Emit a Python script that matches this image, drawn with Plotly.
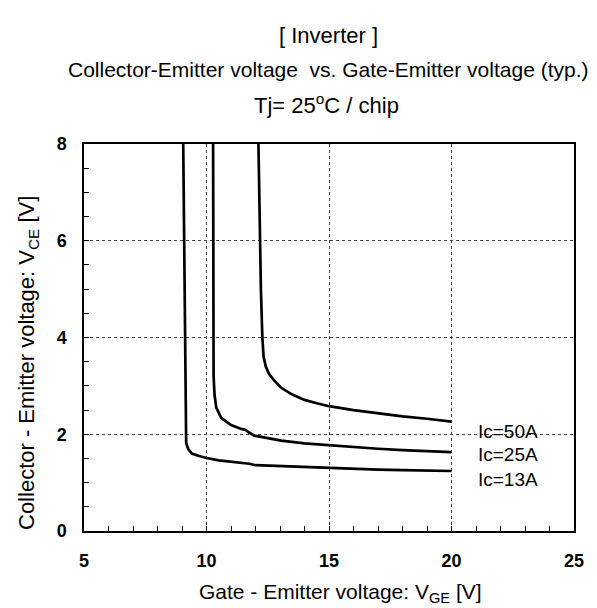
import plotly.graph_objects as go

# Data
vge_50 = [12.12, 12.17, 12.22, 12.28, 12.33, 12.42, 12.55, 12.75, 13.05, 13.5, 14.0, 14.5, 15.0, 16.0, 17.0, 18.0, 19.0, 20.0]
vce_50 = [8.0, 6.0, 5.0, 4.0, 3.6, 3.4, 3.25, 3.12, 2.96, 2.82, 2.71, 2.64, 2.58, 2.5, 2.43, 2.37, 2.32, 2.26]

vge_25 = [10.27, 10.28, 10.29, 10.33, 10.4, 10.6, 11.0, 11.42, 11.6, 11.75, 11.96, 12.5, 13.05, 14.0, 15.0, 16.0, 17.0, 18.0, 19.0, 20.0]
vce_25 = [8.0, 5.0, 3.2, 2.8, 2.55, 2.34, 2.19, 2.11, 2.09, 2.03, 1.97, 1.92, 1.87, 1.81, 1.77, 1.73, 1.7, 1.67, 1.65, 1.63]

vge_13 = [9.05, 9.1, 9.15, 9.17, 9.25, 9.4, 9.7, 10.0, 10.5, 11.0, 11.5, 11.75, 12.0, 13.0, 14.0, 15.0, 16.0, 17.0, 18.0, 19.0, 20.0]
vce_13 = [8.0, 5.0, 2.5, 1.82, 1.7, 1.6, 1.55, 1.51, 1.46, 1.43, 1.41, 1.39, 1.36, 1.34, 1.32, 1.3, 1.29, 1.27, 1.26, 1.25, 1.24]

series_labels = ["Ic=50A", "Ic=25A", "Ic=13A"]
label_y = [2.05, 1.58, 1.06]
label_x = 21.0

x_ticks = [5, 10, 15, 20, 25]
y_ticks = [0, 2, 4, 6, 8]

x_title = "Gate - Emitter voltage: V<sub>GE</sub> [V]"
y_title = "Collector - Emitter voltage: V<sub>CE</sub> [V]"
titles = ["[ Inverter ]",
          "Collector-Emitter voltage  vs. Gate-Emitter voltage (typ.)",
          "Tj= 25<sup>o</sup>C / chip"]

FONT = "Liberation Sans, Arial, sans-serif"
L, R, T, B = 76, 566, 136, 523
W, H = R - L, B - T


def px_x(p):
    return (p - L) / W


def px_y(p):
    return (B - p) / H


fig = go.Figure()
for xs, ys, name in [(vge_50, vce_50, series_labels[0]),
                     (vge_25, vce_25, series_labels[1]),
                     (vge_13, vce_13, series_labels[2])]:
    fig.add_trace(go.Scatter(x=xs, y=ys, mode="lines", name=name,
                             line=dict(color="black", width=2.7),
                             showlegend=False))

for txt, yv in zip(series_labels, label_y):
    fig.add_annotation(x=label_x, y=yv, xref="x", yref="y", text=txt,
                       showarrow=False, xanchor="left", yanchor="middle",
                       font=dict(family=FONT, size=19, color="black"))

for t, ty, tx, fs in zip(titles, [28, 62, 96], [320, 320, 318], [22, 21, 22]):
    fig.add_annotation(x=px_x(tx), xref="paper", y=px_y(ty), yref="paper",
                       text=t, showarrow=False, xanchor="center", yanchor="middle",
                       font=dict(family=FONT, size=fs, color="black"))

fig.add_annotation(x=px_x(332), xref="paper", y=px_y(585), yref="paper",
                   text=x_title, showarrow=False, xanchor="center", yanchor="middle",
                   font=dict(family=FONT, size=21, color="black"))
fig.add_annotation(x=px_x(20), xref="paper", y=px_y(355), yref="paper",
                   text=y_title, showarrow=False, xanchor="center", yanchor="middle",
                   textangle=-90,
                   font=dict(family=FONT, size=22, color="black"))

fig.update_layout(
    width=597, height=608,
    margin=dict(l=L, r=597 - R, t=T, b=608 - B),
    paper_bgcolor="white", plot_bgcolor="white",
    font=dict(family=FONT, color="black"),
)

fig.update_xaxes(
    range=[5, 25], tickvals=x_ticks, ticktext=[str(v) for v in x_ticks],
    tickfont=dict(family=FONT, size=18, weight="bold"),
    ticks="inside", ticklen=5, tickcolor="black",
    minor=dict(dtick=1, ticks="inside", ticklen=5, tickcolor="black", showgrid=False),
    showgrid=True, gridcolor="#444", griddash="dot", gridwidth=1,
    showline=True, linecolor="black", linewidth=1.5, mirror=True,
    zeroline=False, ticklabelstandoff=13,
)
fig.update_yaxes(
    range=[0, 8], tickvals=y_ticks, ticktext=[str(v) for v in y_ticks],
    tickfont=dict(family=FONT, size=18, weight="bold"),
    ticks="inside", ticklen=5, tickcolor="black",
    minor=dict(dtick=0.5, ticks="inside", ticklen=5, tickcolor="black", showgrid=False),
    showgrid=True, gridcolor="#444", griddash="dot", gridwidth=1,
    showline=True, linecolor="black", linewidth=1.5, mirror=True,
    zeroline=False, ticklabelstandoff=12,
)

fig.write_html("out.html")
